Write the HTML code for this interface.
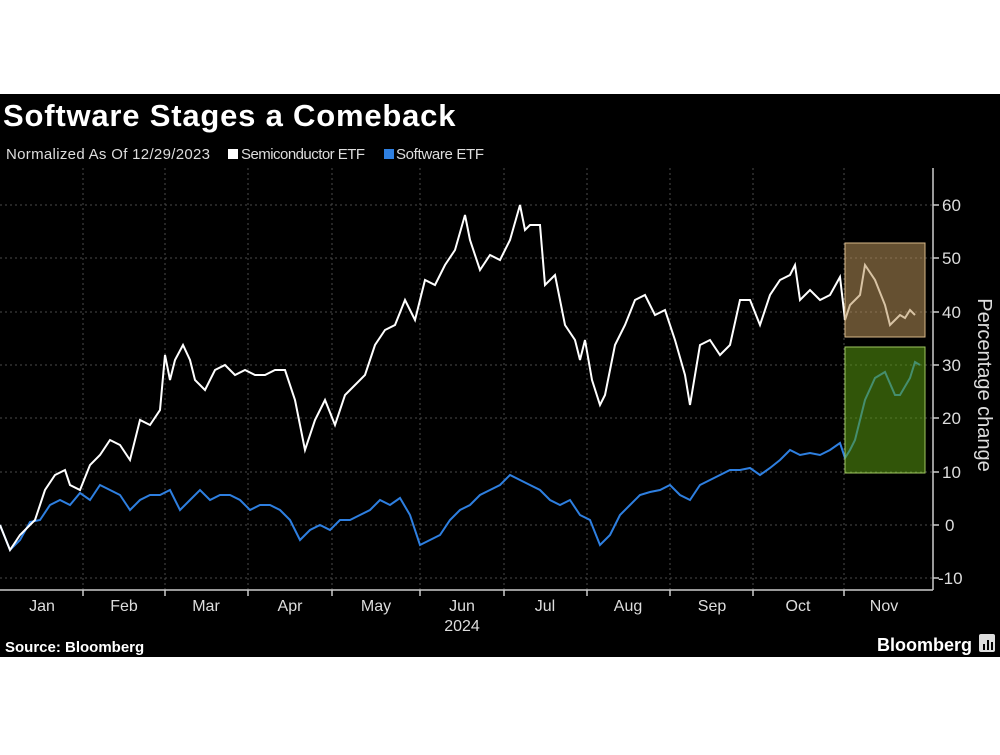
<!DOCTYPE html>
<html><head><meta charset="utf-8"><style>
body{margin:0;background:#fff;width:1000px;height:750px;overflow:hidden;font-family:"Liberation Sans",sans-serif}
</style></head><body>
<svg width="1000" height="750" xmlns="http://www.w3.org/2000/svg" font-family="Liberation Sans, sans-serif">
<rect x="0" y="94" width="1000" height="563" fill="#000"/>
<text x="3" y="126" fill="#fff" font-size="31" font-weight="bold" letter-spacing="0.8">Software Stages a Comeback</text>
<text x="6" y="159" fill="#ddd" font-size="15" textLength="204">Normalized As Of 12/29/2023</text>
<rect x="228" y="149" width="10" height="10" fill="#fff"/>
<text x="241" y="159" fill="#ddd" font-size="15" textLength="124">Semiconductor ETF</text>
<rect x="384" y="149" width="10" height="10" fill="#2e7fe0"/>
<text x="396" y="159" fill="#ddd" font-size="15" textLength="88">Software ETF</text>
<g stroke="#4a4a4a" stroke-dasharray="2,3" stroke-width="1">
<line x1="0" x2="932" y1="205" y2="205"/><line x1="0" x2="932" y1="258" y2="258"/><line x1="0" x2="932" y1="312" y2="312"/><line x1="0" x2="932" y1="365" y2="365"/><line x1="0" x2="932" y1="418" y2="418"/><line x1="0" x2="932" y1="472" y2="472"/><line x1="0" x2="932" y1="525" y2="525"/><line x1="0" x2="932" y1="578" y2="578"/>
<line x1="83" x2="83" y1="168" y2="590"/><line x1="165" x2="165" y1="168" y2="590"/><line x1="248" x2="248" y1="168" y2="590"/><line x1="332" x2="332" y1="168" y2="590"/><line x1="420" x2="420" y1="168" y2="590"/><line x1="504" x2="504" y1="168" y2="590"/><line x1="587" x2="587" y1="168" y2="590"/><line x1="670" x2="670" y1="168" y2="590"/><line x1="753" x2="753" y1="168" y2="590"/><line x1="844" x2="844" y1="168" y2="590"/>
</g>
<g stroke="#ccc" stroke-width="1.5">
<line x1="0" x2="933" y1="590" y2="590"/><line x1="933" x2="933" y1="168" y2="590"/>
<line x1="83" x2="83" y1="590" y2="596"/><line x1="165" x2="165" y1="590" y2="596"/><line x1="248" x2="248" y1="590" y2="596"/><line x1="332" x2="332" y1="590" y2="596"/><line x1="420" x2="420" y1="590" y2="596"/><line x1="504" x2="504" y1="590" y2="596"/><line x1="587" x2="587" y1="590" y2="596"/><line x1="670" x2="670" y1="590" y2="596"/><line x1="753" x2="753" y1="590" y2="596"/><line x1="844" x2="844" y1="590" y2="596"/>
<line x1="933" x2="939" y1="205" y2="205"/><line x1="933" x2="939" y1="258" y2="258"/><line x1="933" x2="939" y1="312" y2="312"/><line x1="933" x2="939" y1="365" y2="365"/><line x1="933" x2="939" y1="418" y2="418"/><line x1="933" x2="939" y1="472" y2="472"/><line x1="933" x2="939" y1="525" y2="525"/><line x1="933" x2="939" y1="578" y2="578"/>
</g>
<g fill="#ddd" font-size="17">
<text x="942" y="211">60</text><text x="942" y="264">50</text><text x="942" y="318">40</text><text x="942" y="371">30</text><text x="942" y="424">20</text><text x="942" y="478">10</text><text x="945" y="531">0</text><text x="938" y="584">-10</text>
</g>
<text transform="translate(978,385) rotate(90)" text-anchor="middle" fill="#ddd" font-size="20">Percentage change</text>
<g fill="#ddd" font-size="16" text-anchor="middle">
<text x="42" y="611">Jan</text><text x="124" y="611">Feb</text><text x="206" y="611">Mar</text><text x="290" y="611">Apr</text><text x="376" y="611">May</text><text x="462" y="611">Jun</text><text x="545" y="611">Jul</text><text x="628" y="611">Aug</text><text x="712" y="611">Sep</text><text x="798" y="611">Oct</text><text x="884" y="611">Nov</text><text x="462" y="631">2024</text>
</g>
<polyline fill="none" stroke="#2e7fe0" stroke-width="2" points="0,525 10,550 20,540 30,522 40,520 50,505 60,500 70,505 80,493 90,500 100,485 110,490 120,495 130,510 140,500 150,495 160,495 170,490 180,510 190,500 200,490 210,500 220,495 230,495 240,500 250,510 260,505 270,505 280,510 290,520 300,540 310,530 320,525 330,530 340,520 350,520 360,515 370,510 380,500 390,505 400,498 410,515 420,545 430,540 440,535 450,520 460,510 470,505 480,495 490,490 500,485 510,475 520,480 530,485 540,490 550,500 560,505 570,500 580,515 590,520 600,545 610,535 620,515 630,505 640,495 650,492 660,490 670,485 680,495 690,500 700,485 710,480 720,475 730,470 740,470 750,468 760,475 770,468 780,460 790,450 800,455 810,453 820,455 830,450 840,443 845,458 850,450 855,440 865,400 875,378 885,372 895,395 900,395 910,378 915,362 920,365"/>
<polyline fill="none" stroke="#fff" stroke-width="2" points="0,525 10,550 20,535 35,520 45,490 55,475 65,470 70,485 80,490 90,465 100,455 110,440 120,445 130,460 140,420 150,425 160,410 165,355 170,380 175,360 183,345 190,360 195,380 205,390 215,370 225,365 235,375 245,370 255,375 265,375 275,370 285,370 295,400 305,450 315,420 325,400 335,425 345,395 355,385 365,375 375,345 385,330 395,325 405,300 415,320 425,280 435,285 445,265 455,250 465,215 470,240 480,270 490,255 500,260 510,240 520,205 525,230 530,225 540,225 545,285 555,275 565,325 575,340 580,360 585,340 592,380 600,405 605,395 615,345 625,325 635,300 645,295 655,315 665,310 675,340 685,375 690,405 700,345 710,340 720,355 730,345 740,300 750,300 760,325 770,295 780,280 790,275 795,265 800,300 810,290 820,300 830,295 840,277 845,320 850,305 860,295 865,265 875,280 885,305 890,325 900,315 905,318 910,310 915,315"/>
<rect x="845" y="243" width="80" height="94" fill="#b8925a" fill-opacity="0.55" stroke="#d8b888" stroke-width="1"/>
<rect x="845" y="347" width="80" height="126" fill="#5a9a10" fill-opacity="0.55" stroke="#a0c860" stroke-width="1"/>
<text x="5" y="652" fill="#fff" font-size="15" font-weight="bold">Source: Bloomberg</text>
<text x="972" y="651" fill="#fff" font-size="18" font-weight="bold" text-anchor="end">Bloomberg</text>
<rect x="979" y="634" width="16" height="18" rx="2" fill="#ddd"/>
<rect x="983" y="644" width="2" height="6" fill="#000"/><rect x="987" y="640" width="2" height="10" fill="#000"/><rect x="991" y="642" width="2" height="8" fill="#000"/>
</svg>
</body></html>
